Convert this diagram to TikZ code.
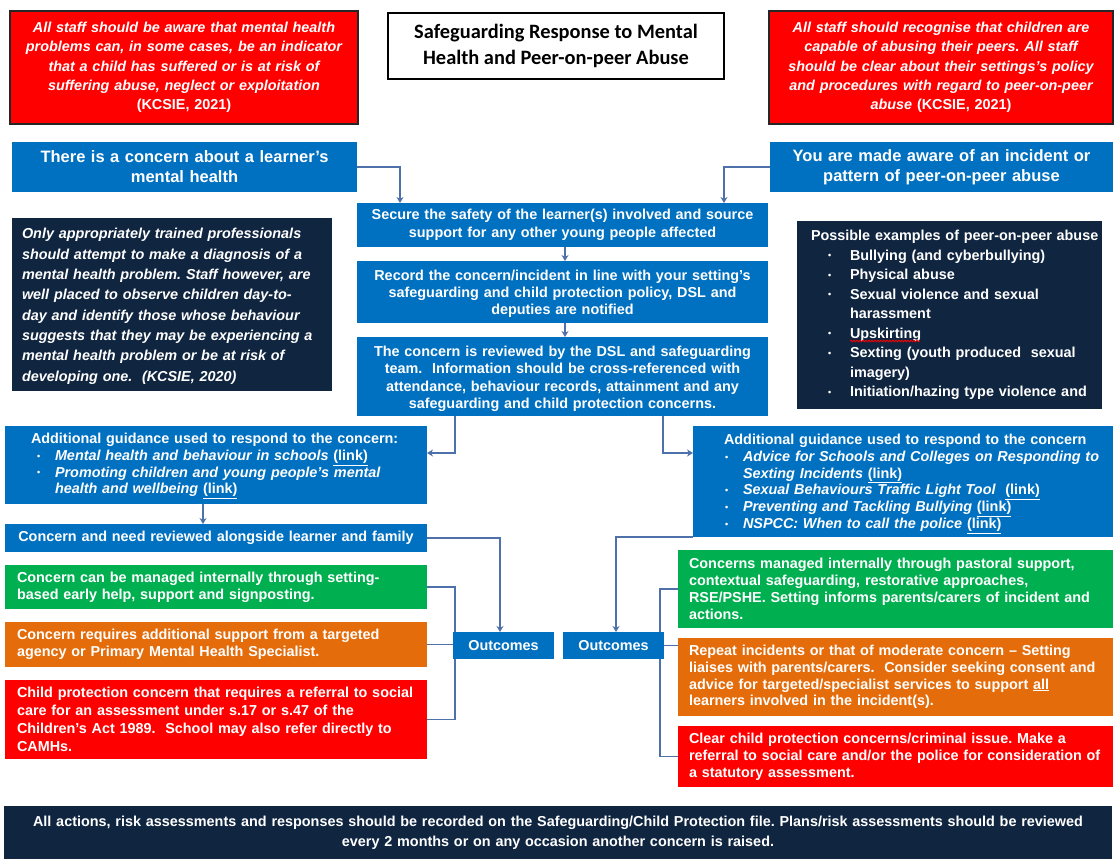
\documentclass[tikz,border=0pt]{standalone}
\usepackage{fontspec}
\setmainfont{Liberation Sans}
\newfontfamily\calibri{Carlito}
\usetikzlibrary{arrows.meta,calc,decorations.pathmorphing}
\pgfdeclarelayer{back}
\pgfdeclarelayer{bg}
\pgfsetlayers{back,bg,main}
\frenchspacing

\definecolor{cred}{RGB}{255,0,0}
\definecolor{cblue}{RGB}{0,112,192}
\definecolor{cnavy}{RGB}{16,37,64}
\definecolor{cgreen}{RGB}{0,176,80}
\definecolor{corange}{RGB}{228,108,10}
\definecolor{cline}{RGB}{79,113,170}

\newcommand\fs[2]{\fontsize{#1}{#2}\selectfont}
\newcommand\bul{\raisebox{1.2pt}{\fs{9}{9}\textbullet}}
\newcommand\li[1]{\mbox{#1}}
\newcommand\lk{\smash{\underline{(link)}}\vphantom{(}}
\newcommand\gb[1]{\hspace*{#1}\makebox[18pt][l]{\bul}}
\newcommand\nb{\hspace*{17pt}\makebox[22pt][l]{\bul}}
\newcommand\bx[7]{\node[#2, minimum width={(#5-#3)*1pt}, minimum height={(#6-#4)*1pt}] (#1) at ({(#3+#5)/2},{(#4+#6)/2}) {#7};}

\tikzset{
  base/.style={inner sep=0pt, outer sep=0pt, text=white},
  fz/.style 2 args={font=\bfseries\fontsize{#1}{#2}\selectfont},
  fzi/.style 2 args={font=\bfseries\itshape\fontsize{#1}{#2}\selectfont},
  redtop/.style={base, fill=cred, draw=black!85, line width=1.5pt},
  redbox/.style={base, fill=cred},
  bluebox/.style={base, fill=cblue},
  navybox/.style={base, fill=cnavy},
  greenbox/.style={base, fill=cgreen},
  orangebox/.style={base, fill=corange},
  titlebox/.style={base, fill=white, draw=black, line width=1.8pt, text=black, align=center,
    font=\calibri\bfseries\fontsize{20.4}{26.5}\selectfont},
  arr/.style={draw=cline, line width=1.6pt, -{Stealth[length=6pt,width=7pt]}},
  ln/.style={draw=cline, line width=1.6pt},
}

\begin{document}
\begin{tikzpicture}[x=1pt,y=-1pt]
\begin{pgfonlayer}{back}
\fill[white] (0,0) rectangle (1116,866);
\end{pgfonlayer}
\useasboundingbox (0,0) rectangle (1116,866);

\bx{redTL}{redtop, fzi={14.4}{19.3}, align=center, text width=340pt}{10}{11}{358}{124}{All staff should be aware that mental health\\ problems can, in some cases, be an indicator\\ that a child has suffered or is at risk of\\ suffering abuse, neglect or exploitation\\ \upshape(KCSIE, 2021)}

\bx{title}{titlebox}{388}{13}{724}{79}{Safeguarding Response to Mental\\Health and Peer-on-peer Abuse}

\bx{redTR}{redtop, fzi={14.4}{19.3}, align=center, text width=336pt}{769}{11}{1113}{124}{All staff should recognise that children are\\ capable of abusing their peers. All staff\\ should be clear about their settings’s policy\\ and procedures with regard to peer-on-peer\\ abuse {\upshape(KCSIE, 2021)}}

\bx{L1}{bluebox, fz={16.5}{20}, align=center, text width=335pt}{12}{142}{357}{192}{There is a concern about a learner’s\\mental health}

\bx{R1}{bluebox, fz={16.5}{20}, align=center, text width=335pt}{770}{142}{1113}{192}{You are made aware of an incident or\\pattern of peer-on-peer abuse}

\bx{secure}{bluebox, fz={14.4}{17.5}, align=center, text width=400pt}{357}{203}{768}{247}{Secure the safety of the learner(s) involved and source\\support for any other young people affected}

\bx{record}{bluebox, fz={14.4}{17}, align=center, text width=400pt}{357}{261}{768}{323}{\rule{0pt}{14pt}Record the concern/incident in line with your setting’s\\safeguarding and child protection policy, DSL and\\deputies are notified}

\bx{reviewed}{bluebox, fz={14.4}{17.2}, align=center, text width=400pt}{357}{337}{768}{416}{\rule{0pt}{15pt}The concern is reviewed by the DSL and safeguarding\\team.\ \ Information should be cross-referenced with\\attendance, behaviour records, attainment and any\\safeguarding and child protection concerns.}

\bx{navyL}{navybox, fzi={14.4}{20.3}, align=left, text width=300pt}{12}{218}{332}{391}{%
\li{\rule{0pt}{14pt}Only appropriately trained professionals}\\
\li{should attempt to make a diagnosis of a}\\
\li{mental health problem. Staff however, are}\\
\li{well placed to observe children day-to-}\\
\li{day and identify those whose behaviour}\\
\li{suggests that they may be experiencing a}\\
\li{mental health problem or be at risk of}\\
\li{developing one.\ \ (KCSIE, 2020)}}

\bx{navyR}{navybox, fz={14.4}{19.5}, align=left, text width=277pt}{797}{221}{1102}{409}{%
\li{Possible examples of peer-on-peer abuse}\\
\li{\nb Bullying (and cyberbullying)}\\
\li{\nb Physical abuse}\\
\li{\nb Sexual violence and sexual}\\
\li{\hspace*{39pt}harassment}\\
\li{\nb Upskirting}\\
\li{\nb Sexting (youth produced~ sexual}\\
\li{\hspace*{39pt}imagery)}\\
\li{\nb Initiation/hazing type violence and}}

\bx{guideL}{bluebox, fz={14.4}{16.8}, align=left, text width=370pt}{5}{426}{427}{504}{%
\li{Additional guidance used to respond to the concern:}\\
\li{\gb{6pt}\textit{Mental health and behaviour in schools} \lk}\\
\li{\gb{6pt}\textit{Promoting children and young people’s mental}}\\
\li{\hspace*{24pt}\textit{health and wellbeing} \lk}}

\bx{guideR}{bluebox, fz={14.4}{16.8}, align=left, text width=358pt}{693}{426}{1113}{537}{%
\li{\rule{0pt}{13pt}Additional guidance used to respond to the concern}\\
\li{\gb{1pt}\textit{Advice for Schools and Colleges on Responding to}}\\
\li{\hspace*{19pt}\textit{Sexting Incidents} \lk}\\
\li{\gb{1pt}\textit{Sexual Behaviours Traffic Light Tool}\ \ \lk}\\
\li{\gb{1pt}\textit{Preventing and Tackling Bullying} \lk}\\
\li{\gb{1pt}\textit{NSPCC: When to call the police} \lk}}

\bx{needrev}{bluebox, fz={14.4}{17}, align=center, text width=410pt}{5}{524}{427}{552}{Concern and need reviewed alongside learner and family}

\bx{greenL}{greenbox, fz={14.4}{17}, align=left, text width=398pt}{5}{565}{427}{609}{%
\li{Concern can be managed internally through setting-}\\
\li{based early help, support and signposting.}}

\bx{orangeL}{orangebox, fz={14.4}{17}, align=left, text width=398pt}{5}{622}{427}{667}{%
\li{Concern requires additional support from a targeted}\\
\li{agency or Primary Mental Health Specialist.}}

\bx{redL2}{redbox, fz={14.4}{17.8}, align=left, text width=398pt}{5}{680}{427}{759}{%
\li{Child protection concern that requires a referral to social}\\
\li{care for an assessment under s.17 or s.47 of the}\\
\li{Children’s Act 1989.\ \ School may also refer directly to}\\
\li{CAMHs.}}

\bx{outL}{bluebox, fz={14.4}{17}, align=center}{453}{632}{554}{659}{Outcomes}
\bx{outR}{bluebox, fz={14.4}{17}, align=center}{563}{632}{664}{659}{Outcomes}

\bx{greenR}{greenbox, fz={14.4}{17}, align=left, text width=413pt}{678}{550}{1113}{628}{%
\li{Concerns managed internally through pastoral support,}\\
\li{contextual safeguarding, restorative approaches,}\\
\li{RSE/PSHE. Setting informs parents/carers of incident and}\\
\li{actions.}}

\bx{orangeR}{orangebox, fz={14.4}{16.8}, align=left, text width=413pt}{678}{638}{1113}{716}{%
\li{Repeat incidents or that of moderate concern -- Setting}\\
\li{liaises with parents/carers.\ \ Consider seeking consent and}\\
\li{advice for targeted/specialist services to support \underline{all}}\\
\li{learners involved in the incident(s).}}

\bx{redR2}{redbox, fz={14.4}{17}, align=left, text width=413pt}{678}{726}{1113}{787}{%
\li{Clear child protection concerns/criminal issue. Make a}\\
\li{referral to social care and/or the police for consideration of}\\
\li{a statutory assessment.}}

\bx{footer}{navybox, fz={14.4}{20}, align=center, text width=1100pt}{4}{806}{1112}{859}{All actions, risk assessments and responses should be recorded on the Safeguarding/Child Protection file. Plans/risk assessments should be reviewed\\every 2 months or on any occasion another concern is raised.}

% spell-check squiggle under "Upskirting"
\draw[cred, line width=0.8pt, decorate, decoration={snake, amplitude=0.8pt, segment length=3pt}] (850,341) -- (920,341);

\begin{pgfonlayer}{bg}
\draw[arr] (L1.east) -| ($(secure.north west)+(43,0)$);
\draw[arr] (R1.west) -| ($(secure.north east)+(-44,0)$);
\draw[arr] ($(secure.south west)+(208,0)$) -- ($(record.north west)+(208,0)$);
\draw[arr] ($(record.south west)+(208,0)$) -- ($(reviewed.north west)+(208,0)$);
\draw[arr] ($(reviewed.south west)+(98,0)$) |- ($(guideL.north east)+(0,27)$);
\draw[arr] ($(reviewed.south west)+(306,0)$) |- ($(guideR.north west)+(0,27)$);
\draw[arr] ($(guideL.south west)+(198,0)$) -- ($(needrev.north west)+(198,0)$);
\draw[arr] (needrev.east) -| ($(outL.north west)+(47,0)$);
\draw[arr] (guideR.south west) -| ($(outR.north west)+(53,0)$);
\draw[ln] (greenL.east) -- ++(28,0) |- (redL2.east);
\draw[ln] (orangeL.east) -- (orangeL.east -| outL.west);
\draw[ln] (greenR.west) -- ++(-18,0) |- (redR2.west);
\draw[ln] (outR.east) -- (outR.east -| orangeR.west);
\end{pgfonlayer}
\end{tikzpicture}
\end{document}
